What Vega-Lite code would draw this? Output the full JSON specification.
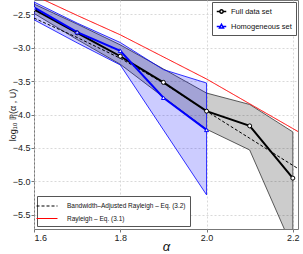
{
  "$schema": "https://vega.github.io/schema/vega-lite/v6.json",
  "width": 264,
  "height": 229,
  "autosize": "none",
  "padding": {"left": 34, "top": 0, "right": 5, "bottom": 25},
  "background": "white",
  "config": {
    "font": "Liberation Sans",
    "view": {"stroke": "#777", "strokeWidth": 1},
    "axis": {
      "domain": false,
      "gridColor": "#cfcfcf",
      "gridDash": [2, 2],
      "gridWidth": 0.8,
      "tickColor": "#777",
      "tickSize": 3,
      "labelFontSize": 9,
      "labelColor": "#222",
      "labelOverlap": false,
      "titleColor": "#111",
      "titleFontWeight": "normal"
    },
    "legend": {
      "strokeColor": "#555",
      "fillColor": "white",
      "padding": 4,
      "cornerRadius": 0,
      "labelColor": "#111",
      "labelFont": "Liberation Sans"
    }
  },
  "datasets": {
    "series": [
      {"alpha": 1.6, "value": -2.43, "series": "Full data set"},
      {"alpha": 1.7, "value": -2.78, "series": "Full data set"},
      {"alpha": 1.8, "value": -3.13, "series": "Full data set"},
      {"alpha": 1.9, "value": -3.52, "series": "Full data set"},
      {"alpha": 2.0, "value": -3.95, "series": "Full data set"},
      {"alpha": 2.1, "value": -4.17, "series": "Full data set"},
      {"alpha": 2.2, "value": -4.95, "series": "Full data set"},
      {"alpha": 1.6, "value": -2.40, "series": "Homogeneous set"},
      {"alpha": 1.7, "value": -2.77, "series": "Homogeneous set"},
      {"alpha": 1.8, "value": -3.05, "series": "Homogeneous set"},
      {"alpha": 1.9, "value": -3.75, "series": "Homogeneous set"},
      {"alpha": 2.0, "value": -4.23, "series": "Homogeneous set"}
    ],
    "bands": [
      {"alpha": 1.6, "hi": -2.35, "lo": -2.49, "series": "Full data set"},
      {"alpha": 1.7, "hi": -2.65, "lo": -2.88, "series": "Full data set"},
      {"alpha": 1.8, "hi": -2.96, "lo": -3.25, "series": "Full data set"},
      {"alpha": 1.9, "hi": -3.32, "lo": -3.74, "series": "Full data set"},
      {"alpha": 2.0, "hi": -3.68, "lo": -4.22, "series": "Full data set"},
      {"alpha": 2.1, "hi": -3.85, "lo": -4.53, "series": "Full data set"},
      {"alpha": 2.2, "hi": -4.26, "lo": -6.0, "series": "Full data set"},
      {"alpha": 1.6, "hi": -2.32, "lo": -2.585, "series": "Homogeneous set"},
      {"alpha": 1.7, "hi": -2.635, "lo": -2.93, "series": "Homogeneous set"},
      {"alpha": 1.8, "hi": -2.925, "lo": -3.26, "series": "Homogeneous set"},
      {"alpha": 1.9, "hi": -3.33, "lo": -4.23, "series": "Homogeneous set"},
      {"alpha": 2.0, "hi": -3.53, "lo": -5.2, "series": "Homogeneous set"}
    ],
    "models": [
      {"alpha": 1.6, "value": -2.56, "model": "Bandwidth–Adjusted Rayleigh – Eq. (3.2)"},
      {"alpha": 1.7, "value": -2.85, "model": "Bandwidth–Adjusted Rayleigh – Eq. (3.2)"},
      {"alpha": 1.8, "value": -3.16, "model": "Bandwidth–Adjusted Rayleigh – Eq. (3.2)"},
      {"alpha": 1.9, "value": -3.53, "model": "Bandwidth–Adjusted Rayleigh – Eq. (3.2)"},
      {"alpha": 2.0, "value": -3.95, "model": "Bandwidth–Adjusted Rayleigh – Eq. (3.2)"},
      {"alpha": 2.1, "value": -4.355, "model": "Bandwidth–Adjusted Rayleigh – Eq. (3.2)"},
      {"alpha": 2.2, "value": -4.76, "model": "Bandwidth–Adjusted Rayleigh – Eq. (3.2)"},
      {"alpha": 2.3, "value": -5.15, "model": "Bandwidth–Adjusted Rayleigh – Eq. (3.2)"},
      {"alpha": 1.6, "value": -2.22, "model": "Rayleigh – Eq. (3.1)"},
      {"alpha": 1.7, "value": -2.52, "model": "Rayleigh – Eq. (3.1)"},
      {"alpha": 1.8, "value": -2.81, "model": "Rayleigh – Eq. (3.1)"},
      {"alpha": 1.9, "value": -3.14, "model": "Rayleigh – Eq. (3.1)"},
      {"alpha": 2.0, "value": -3.47, "model": "Rayleigh – Eq. (3.1)"},
      {"alpha": 2.1, "value": -3.84, "model": "Rayleigh – Eq. (3.1)"},
      {"alpha": 2.2, "value": -4.21, "model": "Rayleigh – Eq. (3.1)"},
      {"alpha": 2.3, "value": -4.58, "model": "Rayleigh – Eq. (3.1)"}
    ]
  },
  "layer": [
    {
      "data": {"name": "bands"},
      "transform": [{"filter": "datum.series === 'Full data set'"}],
      "mark": {"type": "area", "fill": "#000000", "fillOpacity": 0.2, "stroke": "#333333", "strokeWidth": 0.8, "clip": true},
      "encoding": {
        "x": {
          "field": "alpha", "type": "quantitative",
          "scale": {"domain": [1.6, 2.212], "nice": false, "zero": false},
          "axis": {"values": [1.6, 1.8, 2.0, 2.2], "tickCount": 10, "format": ".1f", "title": "α", "titleFontSize": 13, "titleFontStyle": "italic", "labelPadding": 1, "titlePadding": -2, "labelOverlap": false}
        },
        "y": {
          "field": "hi", "type": "quantitative",
          "scale": {"domain": [-5.71, -2.29], "nice": false, "zero": false},
          "axis": {"values": [-2.5, -3, -3.5, -4, -4.5, -5, -5.5], "tickCount": 12, "format": ".1f", "title": "log₁₀ ℙ(α , U)", "titleFontSize": 9, "labelPadding": 1, "titlePadding": -5, "labelOverlap": false}
        },
        "y2": {"field": "lo"}
      }
    },
    {
      "data": {"name": "bands"},
      "transform": [{"filter": "datum.series === 'Homogeneous set'"}],
      "mark": {"type": "area", "fill": "#0000ff", "fillOpacity": 0.2, "stroke": "#0000ff", "strokeWidth": 0.8, "clip": true},
      "encoding": {
        "x": {"field": "alpha", "type": "quantitative"},
        "y": {"field": "hi", "type": "quantitative"},
        "y2": {"field": "lo"}
      }
    },
    {
      "data": {"name": "models"},
      "mark": {"type": "line", "strokeWidth": 1, "clip": true},
      "encoding": {
        "x": {"field": "alpha", "type": "quantitative"},
        "y": {"field": "value", "type": "quantitative"},
        "color": {
          "field": "model", "type": "nominal",
          "scale": {"domain": ["Bandwidth–Adjusted Rayleigh – Eq. (3.2)", "Rayleigh – Eq. (3.1)"], "range": ["#000000", "#ff0000"]},
          "legend": {"title": null, "orient": "bottom-left", "offset": 3, "labelFontSize": 6.5, "symbolType": "M-2,0L2,0", "symbolSize": 110, "symbolStrokeWidth": 1.2, "rowPadding": 2.5, "labelOffset": 14}
        },
        "strokeDash": {
          "field": "model", "type": "nominal",
          "scale": {"domain": ["Bandwidth–Adjusted Rayleigh – Eq. (3.2)", "Rayleigh – Eq. (3.1)"], "range": [[3, 2], [1, 0]]},
          "legend": {"title": null, "orient": "bottom-left", "offset": 3, "labelFontSize": 6.5, "symbolType": "M-2,0L2,0", "symbolSize": 110, "symbolStrokeWidth": 1.2, "rowPadding": 2.5, "labelOffset": 14}
        }
      }
    },
    {
      "data": {"name": "series"},
      "layer": [
        {
          "mark": {"type": "line", "strokeWidth": 2, "clip": true},
          "encoding": {
            "x": {"field": "alpha", "type": "quantitative"},
            "y": {"field": "value", "type": "quantitative"},
            "color": {
              "field": "series", "type": "nominal",
              "scale": {"domain": ["Full data set", "Homogeneous set"], "range": ["#000000", "#0000ff"]},
              "legend": {
                "title": null, "orient": "top-right", "offset": 2, "labelFontSize": 7.5,
                "symbolSize": 90, "symbolStrokeWidth": 1.5, "rowPadding": 4, "labelOffset": 4,
                "symbolFillColor": "white",
                "encode": {"symbols": {"update": {
                  "shape": {"signal": "datum.value === 'Full data set' ? 'M-1,0L-0.35,0M0.35,0L1,0M-0.35,0A0.35,0.35,0,1,1,0.35,0A0.35,0.35,0,1,1,-0.35,0' : 'M-1,0L-0.3,0M0.3,0L1,0M0,-0.45L0.42,0.3L-0.42,0.3Z'"},
                  "fill": {"value": "white"},
                  "fillOpacity": {"value": 1}
                }}}
              }
            }
          }
        },
        {
          "mark": {"type": "point", "filled": true, "fill": "white", "strokeWidth": 1, "size": 16, "opacity": 1, "clip": true},
          "encoding": {
            "x": {"field": "alpha", "type": "quantitative"},
            "y": {"field": "value", "type": "quantitative"},
            "stroke": {
              "field": "series", "type": "nominal",
              "scale": {"domain": ["Full data set", "Homogeneous set"], "range": ["#000000", "#0000ff"]},
              "legend": null
            },
            "shape": {
              "field": "series", "type": "nominal",
              "scale": {"domain": ["Full data set", "Homogeneous set"], "range": ["circle", "triangle-up"]},
              "legend": null
            }
          }
        }
      ]
    }
  ],
  "resolve": {"scale": {"color": "independent", "strokeDash": "independent"}}
}
